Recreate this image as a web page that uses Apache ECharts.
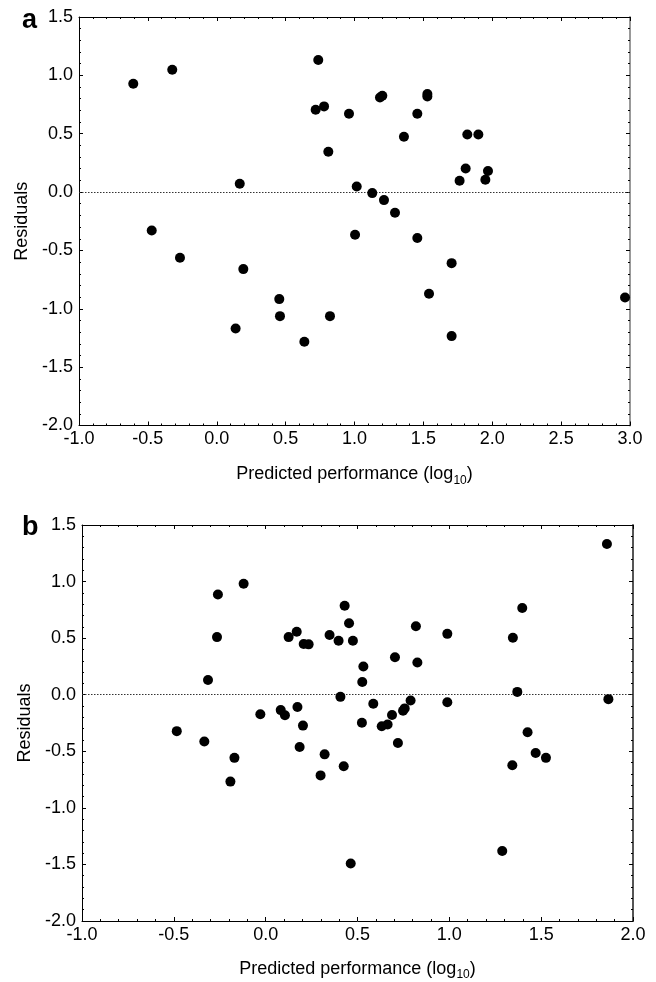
<!DOCTYPE html>
<html><head><meta charset="utf-8">
<script src="https://cdn.jsdelivr.net/npm/echarts@6/dist/echarts.min.js"></script>
<style>html,body{margin:0;padding:0;background:#fff}#c{width:656px;height:982px}</style>
</head><body><div id="c"></div>
<script>
// Panel a data
const aPredicted = [-0.606,-0.323,0.737,0.718,0.779,0.167,-0.472,0.810,0.960,1.185,1.202,1.529,1.529,1.456,1.359,1.819,1.899,1.807,1.969,1.763,1.950,1.016,1.129,1.214,1.294,1.004,1.456,-0.267,0.193,0.454,0.459,0.137,0.636,0.822,1.705,1.541,2.964,1.705];
const aResiduals = [0.928,1.048,1.131,0.705,0.734,0.071,-0.329,0.345,0.671,0.811,0.825,0.840,0.819,0.671,0.474,0.494,0.494,0.202,0.180,0.097,0.105,0.048,-0.009,-0.069,-0.177,-0.366,-0.394,-0.563,-0.660,-0.917,-1.063,-1.169,-1.283,-1.063,-0.609,-0.871,-0.903,-1.234];
// Panel b data
const bPredicted = [-0.260,-0.120,-0.265,-0.314,0.125,0.169,0.207,0.234,0.348,-0.029,0.082,0.105,0.173,0.203,1.858,0.430,1.397,0.454,0.818,0.397,0.475,0.989,1.346,0.704,0.826,0.532,0.526,0.407,1.370,0.989,1.866,0.586,0.789,0.757,0.748,0.688,0.524,0.632,0.664,-0.484,-0.334,-0.170,-0.192,0.185,0.321,0.299,0.425,0.720,0.463,1.288,1.343,1.426,1.470,1.526];
const bResiduals = [0.885,0.981,0.509,0.130,0.509,0.556,0.448,0.445,0.527,-0.173,-0.136,-0.182,-0.109,-0.273,1.332,0.786,0.766,0.632,0.605,0.477,0.477,0.538,0.503,0.331,0.284,0.249,0.112,-0.019,0.025,-0.066,-0.039,-0.080,-0.051,-0.121,-0.142,-0.179,-0.247,-0.278,-0.264,-0.322,-0.413,-0.558,-0.768,-0.462,-0.527,-0.713,-0.632,-0.427,-1.492,-1.381,-0.623,-0.331,-0.515,-0.558];
// Axis ranges / ticks
const aXRange = [-1.0, 3.0];
const bXRange = [-1.0, 2.0];
const yRange = [-2.0, 1.5];
const tickStep = 0.5;
const panelLabels = ['a', 'b'];
const xTitle = ['Predicted performance (log', '10', ')'];
const yTitle = 'Residuals';

const FONT = '"Liberation Sans", Arial, sans-serif';
const chart = echarts.init(document.getElementById('c'), null, {renderer: 'canvas'});

function pts(xs, ys) { return xs.map((x, i) => [x, ys[i]]); }
const fmt = v => v.toFixed(1);

function xAxes(gi, range, gap) {
  return [
    {gridIndex: gi, type: 'value', min: range[0], max: range[1], interval: tickStep, position: 'bottom',
     axisLine: {onZero: false, lineStyle: {color: '#000', width: 1}}, axisTick: {inside: true, length: 4, lineStyle: {color: '#000'}},
     minorTick: {show: true, splitNumber: 5, length: 2, lineStyle: {color: '#000'}},
     axisLabel: {formatter: fmt, color: '#000', fontFamily: FONT, fontSize: 18, margin: 5},
     splitLine: {show: false},
     name: '{a|' + xTitle[0] + '}{s|' + xTitle[1] + '}{a|' + xTitle[2] + '}', nameLocation: 'middle', nameGap: gap,
     nameTextStyle: {fontFamily: FONT, color: '#000', rich: {
       a: {fontFamily: FONT, fontSize: 18, color: '#000', lineHeight: 22, verticalAlign: 'bottom'},
       s: {fontFamily: FONT, fontSize: 12, color: '#000', lineHeight: 12, verticalAlign: 'bottom', padding: [0,0,-3,0]}}}},
    {gridIndex: gi, type: 'value', min: range[0], max: range[1], interval: tickStep, position: 'top',
     axisLine: {onZero: false, lineStyle: {color: '#000', width: 1}}, axisTick: {inside: true, length: 4, lineStyle: {color: '#000'}},
     minorTick: {show: true, splitNumber: 5, length: 2, lineStyle: {color: '#000'}},
     axisLabel: {show: false}, splitLine: {show: false}}
  ];
}
function yAxes(gi, gap, rightColor) {
  return [
    {gridIndex: gi, type: 'value', min: yRange[0], max: yRange[1], interval: tickStep, position: 'left',
     axisLine: {show: true, onZero: false, lineStyle: {color: '#000', width: 1}}, axisTick: {show: true, inside: true, length: 4, lineStyle: {color: '#000'}},
     minorTick: {show: true, splitNumber: 5, length: 2, lineStyle: {color: '#000'}},
     axisLabel: {formatter: fmt, color: '#000', fontFamily: FONT, fontSize: 18, margin: 6},
     splitLine: {show: false},
     name: yTitle, nameLocation: 'middle', nameGap: gap,
     nameTextStyle: {fontFamily: FONT, fontSize: 18, color: '#000'}},
    {gridIndex: gi, type: 'value', min: yRange[0], max: yRange[1], interval: tickStep, position: 'right',
     axisLine: {show: true, onZero: false, lineStyle: {color: rightColor, width: 2}}, axisTick: {show: true, inside: true, length: 4, lineStyle: {color: '#000'}},
     minorTick: {show: true, splitNumber: 5, length: 2, lineStyle: {color: '#000'}},
     axisLabel: {show: false}, splitLine: {show: false}}
  ];
}
function scatter(gi, data) {
  return {type: 'scatter', xAxisIndex: gi * 2, yAxisIndex: gi * 2, data: data, symbol: 'circle', symbolSize: 10,
    itemStyle: {color: '#000', opacity: 1}, silent: true, z: 5,
    markLine: {silent: true, symbol: ['none', 'none'], label: {show: false},
      lineStyle: {type: [1.5, 1.5], color: '#333', width: 1, opacity: 1}, data: [{yAxis: 0}]}};
}

chart.setOption({
  animation: false,
  backgroundColor: '#fff',
  grid: [
    {left: 79, top: 17, width: 551, height: 408.5},
    {left: 82, top: 525, width: 551, height: 400}
  ],
  xAxis: [...xAxes(0, aXRange, 36), ...xAxes(1, bXRange, 35)],
  yAxis: [...yAxes(0, 41, '#999'), ...yAxes(1, 43, '#555')],
  series: [scatter(0, pts(aPredicted, aResiduals)), scatter(1, pts(bPredicted, bResiduals))],
  graphic: [
    {type: 'text', left: 22, top: 7, style: {text: panelLabels[0], font: 'bold 27px ' + FONT, fill: '#000'}},
    {type: 'text', left: 22, top: 514, style: {text: panelLabels[1], font: 'bold 27px ' + FONT, fill: '#000'}}
  ]
});
</script></body></html>
